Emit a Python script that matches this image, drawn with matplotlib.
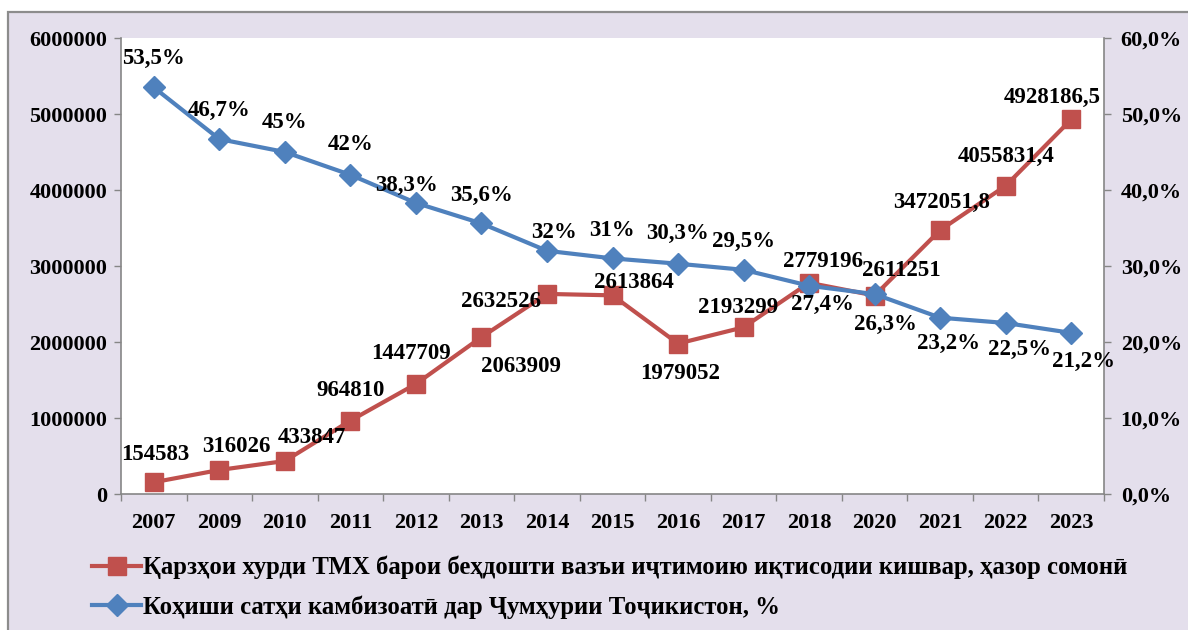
import matplotlib
matplotlib.use("Agg")
import matplotlib.pyplot as plt
from matplotlib.patches import Rectangle
from matplotlib.ticker import FixedLocator, FuncFormatter

plt.rcParams['font.family'] = ['Liberation Serif', 'DejaVu Serif']
plt.rcParams['font.weight'] = 'bold'

# ---- data ----
years = ['2007', '2009', '2010', '2011', '2012', '2013', '2014', '2015',
         '2016', '2017', '2018', '2020', '2021', '2022', '2023']
loans = [154583, 316026, 433847, 964810, 1447709, 2063909, 2632526, 2613864,
         1979052, 2193299, 2779196, 2611251, 3472051.8, 4055831.4, 4928186.5]
poverty = [53.5, 46.7, 45, 42, 38.3, 35.6, 32, 31, 30.3, 29.5, 27.4, 26.3,
           23.2, 22.5, 21.2]
label_loans = 'Қарзҳои хурди ТМХ барои беҳдошти вазъи иҷтимоию иқтисодии кишвар, ҳазор сомонӣ'
label_pov = 'Коҳиши сатҳи камбизоатӣ дар Ҷумҳурии Тоҷикистон, %'

# label offsets (pixels, relative to the point)
off_loans = [(1, 28), (17, 23), (27, 24), (0, 30), (-5, 30), (40, -29), (-46, -8),
             (21, 13), (2, -30), (-5, 20), (14, 21), (27, 25), (1, 28), (0, 29), (-19, 22)]
off_pov = [(0, 29), (0, 29), (0, 30), (0, 30), (-9, 17), (0, 28), (7, 18), (-1, 28),
           (-1, 30), (0, 28), (13, -19), (11, -30), (8, -26), (14, -26), (12, -29)]

RED = '#C0504D'
BLUE = '#4F81BD'
LAV = '#E4DFEC'
GRAY = '#868686'
FS = 16
FSL = 16.5

W, H = 1188, 630
fig = plt.figure(figsize=(W / 100, H / 100), dpi=100, facecolor='white')
fig.patches.append(Rectangle((8 / W, -0.02), 1.05, (H - 12) / H + 0.02,
                             transform=fig.transFigure, facecolor=LAV,
                             edgecolor='#8C8C8C', linewidth=1.6, zorder=-5))

ax = fig.add_axes([121 / W, 136 / H, 983 / W, 456 / H])
ax.set_facecolor('white')
x = list(range(len(years)))

def fmt_num(v):
    if float(v) == int(v):
        return str(int(v))
    return f"{v:.1f}".replace('.', ',')

ax.plot(x, loans, color=RED, lw=3, marker='s', ms=13.5, mec=RED, mfc=RED,
        label=label_loans, zorder=3)
ax.set_xlim(-0.5, len(years) - 0.5)
ax.set_ylim(0, 6000000)
ax.set_yticks([0, 1000000, 2000000, 3000000, 4000000, 5000000, 6000000])
ax.yaxis.set_major_formatter(FuncFormatter(lambda v, p: f"{int(v)}"))
ax.set_xticks(x)
ax.set_xticklabels(years)
ax.xaxis.set_minor_locator(FixedLocator([i - 0.5 for i in range(len(years) + 1)]))
ax.tick_params(axis='x', which='major', length=0, pad=14, labelsize=FS)
ax.tick_params(axis='x', which='minor', length=5, color=GRAY, width=1)
ax.tick_params(axis='y', length=5, color=GRAY, width=1, pad=5, labelsize=FS)
for s in ['top', 'right']:
    ax.spines[s].set_visible(False)
for s in ['left', 'bottom']:
    ax.spines[s].set_color(GRAY)
    ax.spines[s].set_linewidth(1.2)

for i, v in enumerate(loans):
    ax.annotate(fmt_num(v), (i, v), xytext=off_loans[i], textcoords='offset pixels',
                ha='center', va='center', fontsize=FSL, fontweight='bold', zorder=5)

ax2 = ax.twinx()
ax2.plot(x, poverty, color=BLUE, lw=3, marker='D', ms=11, mec=BLUE, mfc=BLUE,
         label=label_pov, zorder=4)
ax2.set_ylim(0, 60)
ax2.set_yticks([0, 10, 20, 30, 40, 50, 60])
ax2.yaxis.set_major_formatter(FuncFormatter(lambda v, p: f"{v:.1f}".replace('.', ',') + '%'))
ax2.tick_params(axis='y', length=5, color=GRAY, width=1, pad=7, labelsize=FS)
for s in ['top', 'left', 'bottom']:
    ax2.spines[s].set_visible(False)
ax2.spines['right'].set_color(GRAY)
ax2.spines['right'].set_linewidth(1.2)

for i, v in enumerate(poverty):
    ax2.annotate(fmt_num(v) + '%', (i, v), xytext=off_pov[i], textcoords='offset pixels',
                 ha='center', va='center', fontsize=FSL, fontweight='bold', zorder=6)

h1, l1 = ax.get_legend_handles_labels()
h2, l2 = ax2.get_legend_handles_labels()
leg = fig.legend(h1 + h2, l1 + l2, loc='upper left',
                 bbox_to_anchor=(82 / W, 1 - 546 / H), frameon=False,
                 fontsize=17.8, handlelength=2.0, handletextpad=0.08,
                 labelspacing=0.65, borderaxespad=0)

fig.savefig('out.png', dpi=100, facecolor='white')
